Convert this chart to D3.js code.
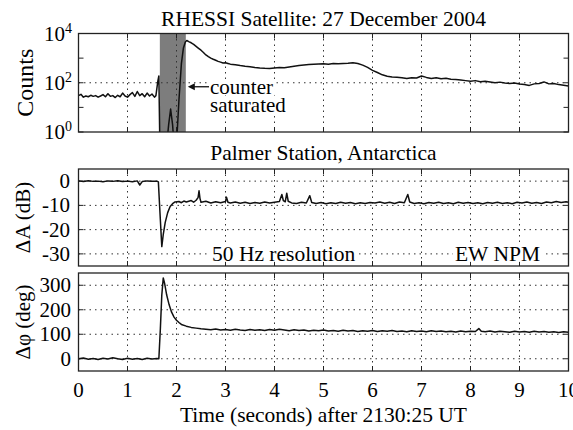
<!DOCTYPE html>
<html>
<head>
<meta charset="utf-8">
<script src="https://cdn.jsdelivr.net/npm/d3@7"></script>
<style>
  body { margin: 0; background: white; }
</style>
</head>
<body>
<div class="board"></div>
<script>
var width = 573, height = 430

var svg = d3.select(".board")
    .append("svg")
    .attr("width", width)
    .attr("height", height)
    .attr("font-family", "'Liberation Serif', 'Times New Roman', 'DejaVu Serif', serif")
    .style("font-family", "'Liberation Serif', 'Times New Roman', 'DejaVu Serif', serif")

// time axis
let xTicks = [0, 1, 2, 3, 4, 5, 6, 7, 8, 9, 10]

// RHESSI counts [time (s), counts]
let countsData = [
    [0.00, 30], [0.05, 34], [0.10, 26], [0.15, 29], [0.20, 27], [0.25, 31], [0.30, 28], [0.35, 30],
    [0.40, 26], [0.45, 29], [0.50, 33], [0.55, 27], [0.60, 36], [0.65, 28], [0.70, 30], [0.75, 25],
    [0.80, 31], [0.85, 27], [0.90, 38], [0.95, 29], [1.00, 26], [1.05, 33], [1.10, 40], [1.15, 28],
    [1.20, 44], [1.25, 30], [1.30, 36], [1.35, 27], [1.40, 38], [1.45, 29], [1.50, 35], [1.55, 26],
    [1.58, 30], [1.62, 120], [1.64, 190], [1.66, 0.3], [1.80, 0.3], [1.84, 2], [1.88, 8.5], [1.92, 2],
    [1.95, 0.3], [2.00, 0.3], [2.05, 20], [2.10, 600], [2.14, 2500], [2.18, 4500], [2.21, 5200],
    [2.25, 4700], [2.30, 4200], [2.35, 3600], [2.40, 3000], [2.45, 2500], [2.50, 2100], [2.55, 1700],
    [2.60, 1350], [2.65, 1150], [2.70, 1000], [2.75, 900], [2.80, 820], [2.85, 740], [2.90, 690],
    [2.95, 630], [3.00, 650], [3.05, 610], [3.10, 570], [3.20, 540], [3.30, 500], [3.40, 470],
    [3.50, 450], [3.60, 420], [3.70, 400], [3.80, 385], [3.90, 380], [4.00, 400], [4.10, 420],
    [4.20, 410], [4.30, 440], [4.40, 470], [4.50, 500], [4.60, 530], [4.70, 550], [4.80, 570],
    [4.90, 580], [5.00, 590], [5.10, 570], [5.20, 600], [5.30, 590], [5.40, 610], [5.50, 620],
    [5.60, 645], [5.70, 600], [5.80, 520], [5.90, 420], [6.00, 320], [6.10, 260], [6.20, 210],
    [6.30, 185], [6.40, 172], [6.50, 168], [6.60, 160], [6.70, 148], [6.80, 160], [6.90, 155],
    [7.00, 188], [7.10, 165], [7.20, 150], [7.30, 160], [7.40, 145], [7.50, 152], [7.60, 140],
    [7.70, 135], [7.80, 128], [7.90, 122], [8.00, 115], [8.10, 122], [8.20, 110], [8.30, 116],
    [8.40, 108], [8.50, 100], [8.60, 106], [8.70, 98], [8.80, 94], [8.90, 97], [9.00, 89],
    [9.10, 84], [9.20, 78], [9.30, 90], [9.40, 94], [9.50, 108], [9.60, 90], [9.70, 94],
    [9.80, 84], [9.90, 79], [10.0, 74]
]
let countsTicks = [1, 10, 100, 1000, 10000]
let countsLabels = [0, 2, 4]
let saturatedBand = [1.66, 2.19]

// Palmer amplitude [time (s), dB]
let ampData = [
    [0.0, 0.1], [0.1, -0.2], [0.2, 0.2], [0.3, -0.1], [0.4, 0.0], [0.5, -0.3], [0.6, 0.1], [0.7, -0.1],
    [0.8, 0.2], [0.9, -0.2], [1.0, 0.0], [1.1, -0.3], [1.2, 0.1], [1.25, -1.6], [1.3, -0.2], [1.4, 0.1],
    [1.5, -0.1], [1.6, 0.0], [1.63, -0.3], [1.66, -12], [1.70, -27], [1.73, -22], [1.77, -17],
    [1.82, -13], [1.87, -10.5], [1.92, -9.3], [1.97, -8.6], [2.05, -8.4], [2.1, -8.9], [2.15, -8.2],
    [2.2, -8.6], [2.3, -8.0], [2.35, -8.7], [2.4, -7.9], [2.44, -6.8], [2.46, -4.0], [2.48, -7.2],
    [2.5, -8.7], [2.6, -8.3], [2.7, -9.0], [2.8, -8.5], [2.9, -8.9], [3.0, -8.4], [3.02, -6.6],
    [3.05, -8.7], [3.1, -9.0], [3.2, -8.6], [3.3, -9.1], [3.4, -8.7], [3.5, -9.2], [3.6, -8.8],
    [3.7, -9.1], [3.8, -8.6], [3.9, -9.0], [4.0, -8.7], [4.1, -8.4], [4.15, -5.5], [4.18, -8.0],
    [4.22, -8.5], [4.25, -5.0], [4.28, -8.3], [4.35, -9.0], [4.45, -9.2], [4.55, -8.7], [4.65, -9.0],
    [4.72, -6.0], [4.76, -8.8], [4.85, -9.2], [4.95, -8.8], [5.05, -9.3], [5.15, -8.9], [5.25, -9.2],
    [5.35, -8.7], [5.45, -9.1], [5.55, -8.8], [5.65, -9.3], [5.75, -8.9], [5.85, -9.2], [5.95, -8.8],
    [6.05, -9.0], [6.15, -8.6], [6.25, -9.1], [6.35, -8.7], [6.45, -9.2], [6.55, -8.6], [6.65, -8.9],
    [6.72, -5.5], [6.76, -8.6], [6.85, -9.2], [6.95, -8.9], [7.05, -9.3], [7.15, -8.8], [7.25, -9.1],
    [7.35, -8.7], [7.45, -9.2], [7.55, -8.9], [7.65, -9.3], [7.75, -8.7], [7.85, -9.1], [7.95, -8.8],
    [8.05, -9.2], [8.15, -8.9], [8.25, -9.3], [8.35, -8.8], [8.45, -9.1], [8.55, -8.7], [8.65, -9.2],
    [8.75, -8.9], [8.85, -9.3], [8.95, -8.7], [9.05, -9.0], [9.15, -8.6], [9.25, -9.1], [9.35, -8.8],
    [9.45, -9.2], [9.55, -8.6], [9.65, -8.9], [9.75, -8.4], [9.85, -8.8], [9.95, -8.5], [10.0, -8.7]
]
let ampTicks = [-30, -20, -10, 0]

// Palmer phase [time (s), deg]
let phaseData = [
    [0.0, 0], [0.1, 3], [0.2, -2], [0.3, 1], [0.4, -3], [0.5, 2], [0.6, -1], [0.7, 4], [0.8, 0],
    [0.9, -3], [1.0, 2], [1.1, -2], [1.2, 1], [1.3, -3], [1.4, 2], [1.5, -1], [1.6, 1], [1.64, 0],
    [1.67, 120], [1.70, 260], [1.73, 330], [1.76, 305], [1.80, 260], [1.85, 220], [1.90, 190],
    [1.95, 170], [2.0, 157], [2.05, 148], [2.1, 140], [2.2, 133], [2.3, 128], [2.4, 125], [2.5, 122],
    [2.6, 120], [2.7, 118], [2.8, 121], [2.9, 117], [3.0, 119], [3.1, 116], [3.2, 120], [3.3, 117],
    [3.4, 115], [3.5, 119], [3.6, 116], [3.7, 118], [3.8, 115], [3.9, 119], [4.0, 116], [4.1, 120],
    [4.2, 117], [4.3, 114], [4.4, 118], [4.5, 115], [4.6, 117], [4.7, 113], [4.8, 116], [4.9, 114],
    [5.0, 117], [5.1, 113], [5.2, 115], [5.3, 112], [5.4, 116], [5.5, 113], [5.6, 115], [5.7, 111],
    [5.8, 114], [5.9, 112], [6.0, 115], [6.1, 111], [6.2, 114], [6.3, 112], [6.4, 115], [6.5, 111],
    [6.6, 113], [6.7, 110], [6.8, 114], [6.9, 111], [7.0, 113], [7.1, 110], [7.2, 114], [7.3, 111],
    [7.4, 113], [7.5, 110], [7.6, 112], [7.7, 109], [7.8, 113], [7.9, 110], [8.0, 112], [8.1, 111],
    [8.17, 123], [8.22, 112], [8.3, 110], [8.4, 113], [8.5, 109], [8.6, 112], [8.7, 110], [8.8, 108],
    [8.9, 112], [9.0, 109], [9.1, 111], [9.2, 108], [9.3, 112], [9.4, 109], [9.5, 111], [9.6, 108],
    [9.7, 110], [9.8, 107], [9.9, 110], [10.0, 108]
]
let phaseTicks = [0, 100, 200, 300]

const LEFT = 78.5
const RIGHT = 568.5
const TICK = 5
const FONT = 21

let x = d3.scaleLinear().domain([0, 10]).range([LEFT, RIGHT])

let yCounts = d3.scaleLog().domain([1, 10000]).range([132, 33.5])
let yAmp = d3.scaleLinear().domain([-35, 5]).range([266, 169])
let yPhase = d3.scaleLinear().domain([-50, 350]).range([371, 273])

function labelBox(textSel) {
    // white box behind a text so the grid stops at it
    let b = textSel.node().getBBox()
    svg.insert("rect", () => textSel.node())
        .attr("x", b.x - 2).attr("y", b.y + 4)
        .attr("width", b.width + 4).attr("height", b.height - 8)
        .attr("fill", "white")
}

function appendPanel(id, y, gridValues, tickValues, data) {
    let top = y.range()[1], bottom = y.range()[0]
    let g = svg.append("g")

    g.append("clipPath").attr("id", "clip-" + id)
        .append("rect")
        .attr("x", LEFT).attr("y", top)
        .attr("width", RIGHT - LEFT).attr("height", bottom - top)

    let grid = g.append("g")
        .attr("stroke", "#333")
        .attr("stroke-width", 1)
        .attr("stroke-dasharray", "1.5,4")

    grid.selectAll(".vgrid")
        .data(xTicks.slice(1, -1))
        .enter()
        .append("line")
        .attr("x1", d => x(d)).attr("x2", d => x(d))
        .attr("y1", top).attr("y2", bottom)

    grid.selectAll(".hgrid")
        .data(gridValues)
        .enter()
        .append("line")
        .attr("x1", LEFT).attr("x2", RIGHT)
        .attr("y1", d => y(d)).attr("y2", d => y(d))

    let ticks = g.append("g").attr("stroke", "#222").attr("stroke-width", 1)
    xTicks.forEach(t => {
        ticks.append("line").attr("x1", x(t)).attr("x2", x(t)).attr("y1", bottom).attr("y2", bottom - TICK)
        ticks.append("line").attr("x1", x(t)).attr("x2", x(t)).attr("y1", top).attr("y2", top + TICK)
    })
    tickValues.forEach(v => {
        ticks.append("line").attr("x1", LEFT).attr("x2", LEFT + TICK).attr("y1", y(v)).attr("y2", y(v))
        ticks.append("line").attr("x1", RIGHT).attr("x2", RIGHT - TICK).attr("y1", y(v)).attr("y2", y(v))
    })

    g.append("path")
        .datum(data)
        .attr("clip-path", `url(#clip-${id})`)
        .attr("fill", "none")
        .attr("stroke", "#111")
        .attr("stroke-width", 1.5)
        .attr("stroke-linejoin", "round")
        .attr("d", d3.line().x(d => x(d[0])).y(d => y(d[1])))

    g.append("rect")
        .attr("x", LEFT).attr("y", top)
        .attr("width", RIGHT - LEFT).attr("height", bottom - top)
        .attr("fill", "none")
        .attr("stroke", "#222")
        .attr("stroke-width", 1.3)

    return g
}

// ---- top: RHESSI counts
svg.append("rect")
    .attr("x", x(saturatedBand[0]))
    .attr("y", yCounts.range()[1])
    .attr("width", x(saturatedBand[1]) - x(saturatedBand[0]))
    .attr("height", yCounts.range()[0] - yCounts.range()[1])
    .attr("fill", "#7d7d7d")

appendPanel("counts", yCounts, [100], countsTicks, countsData)

countsLabels.forEach(p => {
    let t = svg.append("text")
        .attr("x", 72)
        .attr("y", yCounts(Math.pow(10, p)) + 7)
        .attr("text-anchor", "end")
        .attr("font-size", FONT)
    t.append("tspan").text("10")
    t.append("tspan").text(p).attr("font-size", 14).attr("dy", -8)
})

svg.append("text")
    .attr("transform", `translate(33, ${(yCounts.range()[0] + yCounts.range()[1]) / 2}) rotate(-90)`)
    .attr("text-anchor", "middle")
    .attr("font-size", 24)
    .text("Counts")

svg.append("text")
    .attr("x", (LEFT + RIGHT) / 2).attr("y", 26)
    .attr("text-anchor", "middle")
    .attr("font-size", 21.5)
    .text("RHESSI Satellite: 27 December 2004")

// counter saturated note
let arrowY = yCounts(100) + 4
let c1 = svg.append("text").attr("x", 210).attr("y", 94).attr("font-size", FONT).text("counter")
let c2 = svg.append("text").attr("x", 210).attr("y", 112).attr("font-size", FONT).text("saturated")
labelBox(c1)
labelBox(c2)
svg.append("line")
    .attr("x1", 193).attr("x2", 209)
    .attr("y1", arrowY).attr("y2", arrowY)
    .attr("stroke", "#111").attr("stroke-width", 1.3)
svg.append("path")
    .attr("d", `M${x(saturatedBand[1]) + 2},${arrowY} l7,-3.5 l0,7 z`)
    .attr("fill", "#111")

// ---- middle: amplitude
svg.append("text")
    .attr("x", (LEFT + RIGHT) / 2).attr("y", 160)
    .attr("text-anchor", "middle")
    .attr("font-size", 21.5)
    .text("Palmer Station, Antarctica")

appendPanel("amp", yAmp, ampTicks, ampTicks, ampData)

svg.selectAll(".ampLabel")
    .data(ampTicks)
    .enter()
    .append("text")
    .attr("x", 70)
    .attr("y", d => yAmp(d) + 7)
    .attr("text-anchor", "end")
    .attr("font-size", FONT)
    .text(d => d)

svg.append("text")
    .attr("transform", `translate(30, ${(yAmp.range()[0] + yAmp.range()[1]) / 2}) rotate(-90)`)
    .attr("text-anchor", "middle")
    .attr("font-size", FONT)
    .text("\u0394A (dB)")

let hz = svg.append("text").attr("x", 212).attr("y", yAmp(-30) + 7).attr("font-size", 21.5).text("50 Hz resolution")
labelBox(hz)
let npm = svg.append("text").attr("x", 540).attr("y", yAmp(-30) + 7).attr("text-anchor", "end").attr("font-size", 21.5).text("EW NPM")
labelBox(npm)

// ---- bottom: phase
appendPanel("phase", yPhase, phaseTicks, phaseTicks, phaseData)

svg.selectAll(".phaseLabel")
    .data(phaseTicks)
    .enter()
    .append("text")
    .attr("x", 71)
    .attr("y", d => yPhase(d) + 7)
    .attr("text-anchor", "end")
    .attr("font-size", FONT)
    .text(d => d)

svg.append("text")
    .attr("transform", `translate(30, ${(yPhase.range()[0] + yPhase.range()[1]) / 2}) rotate(-90)`)
    .attr("text-anchor", "middle")
    .attr("font-size", FONT)
    .text("\u0394\u03c6 (deg)")

svg.selectAll(".xLabel")
    .data(xTicks)
    .enter()
    .append("text")
    .attr("x", d => x(d))
    .attr("y", 397)
    .attr("text-anchor", "middle")
    .attr("font-size", FONT)
    .text(d => d)

svg.append("text")
    .attr("x", (LEFT + RIGHT) / 2).attr("y", 422)
    .attr("text-anchor", "middle")
    .attr("font-size", 21.5)
    .text("Time (seconds) after 2130:25 UT")
</script>
</body>
</html>
